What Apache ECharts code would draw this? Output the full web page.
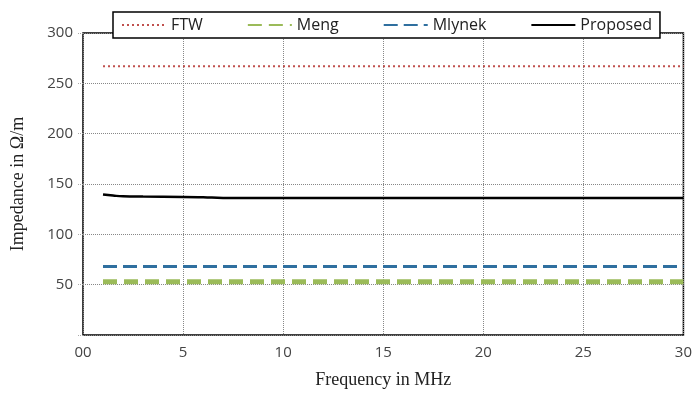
<!DOCTYPE html>
<html><head><meta charset="utf-8">
<script src="https://cdn.jsdelivr.net/npm/echarts@6/dist/echarts.min.js"></script>
<style>html,body{margin:0;padding:0;background:#fff}#c{width:695px;height:394px}</style>
</head><body><div id="c"></div>
<script>
const xFTW = [1, 30];
const yFTW = [267, 267];
const xMeng = [1, 30];
const yMeng = [53, 53];
const xMlynek = [1, 30];
const yMlynek = [68, 68];
const xProposed = [1, 1.5, 2, 3, 5, 6, 7, 10, 15, 20, 25, 30];
const yProposed = [139.5, 138.5, 137.8, 137.5, 137.2, 136.8, 136.2, 136, 136, 136, 136, 136];
const xTicks = [0, 5, 10, 15, 20, 25, 30];
const yTicks = [0, 50, 100, 150, 200, 250, 300];

const pair = (xs, ys) => xs.map((x, i) => [x, ys[i]]);
const chart = echarts.init(document.getElementById('c'));
chart.setOption({
  animation: false,
  grid: {left: 83, right: 10, top: 33, bottom: 56, show: true, borderColor: '#000', borderWidth: 1.5},
  legend: {
    top: 12, left: 113, width: 560, itemGap: 44,
    backgroundColor: '#fff', borderColor: '#000', borderWidth: 1.5, padding: [5, 8, 5, 8],
    itemWidth: 44, itemHeight: 10,
    itemStyle: {opacity: 0},
    textStyle: {fontFamily: 'Open Sans', fontSize: 16, color: '#222'},
    data: ['FTW', 'Meng', 'Mlynek', 'Proposed']
  },
  xAxis: {
    type: 'value', min: 0, max: 30, interval: 5,
    name: 'Frequency in MHz', nameLocation: 'middle', nameGap: 36,
    nameTextStyle: {fontFamily: 'Liberation Serif', fontSize: 18, color: '#222'},
    axisLine: {show: false}, axisTick: {show: false},
    axisLabel: {fontFamily: 'Open Sans', fontSize: 15, color: '#444', margin: 10,
      formatter: v => v === 0 ? '00' : String(v)},
    splitLine: {show: true, lineStyle: {type: 'dotted', color: '#888', width: 1}}
  },
  yAxis: {
    type: 'value', min: 0, max: 300, interval: 50,
    name: 'Impedance in Ω/m', nameLocation: 'middle', nameGap: 56,
    nameTextStyle: {fontFamily: 'Liberation Serif', fontSize: 18, color: '#222'},
    axisLine: {show: false}, axisTick: {show: true, length: 5, lineStyle: {color: '#aaa', type: 'dotted'}},
    axisLabel: {fontFamily: 'Open Sans', fontSize: 15, color: '#444', margin: 10,
      formatter: v => v === 0 ? '' : String(v)},
    splitLine: {show: true, lineStyle: {type: 'dotted', color: '#888', width: 1}}
  },
  series: [
    {name: 'FTW', type: 'line', data: pair(xFTW, yFTW), showSymbol: false, symbol: 'none',
     lineStyle: {color: '#c0504d', width: 2, type: [2, 3]}, itemStyle: {color: '#c0504d'}},
    {name: 'Meng', type: 'line', data: pair(xMeng, yMeng), showSymbol: false, symbol: 'none',
     lineStyle: {color: '#9bbb59', width: 5, type: [14, 7]}, itemStyle: {color: '#4aa564'}},
    {name: 'Mlynek', type: 'line', data: pair(xMlynek, yMlynek), showSymbol: false, symbol: 'none',
     lineStyle: {color: '#2f6f9f', width: 3, type: [14, 6]}, itemStyle: {color: '#2f6f9f'}},
    {name: 'Proposed', type: 'line', data: pair(xProposed, yProposed), showSymbol: false, symbol: 'none', smooth: true,
     lineStyle: {color: '#000', width: 2.5}, itemStyle: {color: '#000'}}
  ]
});
</script></body></html>
